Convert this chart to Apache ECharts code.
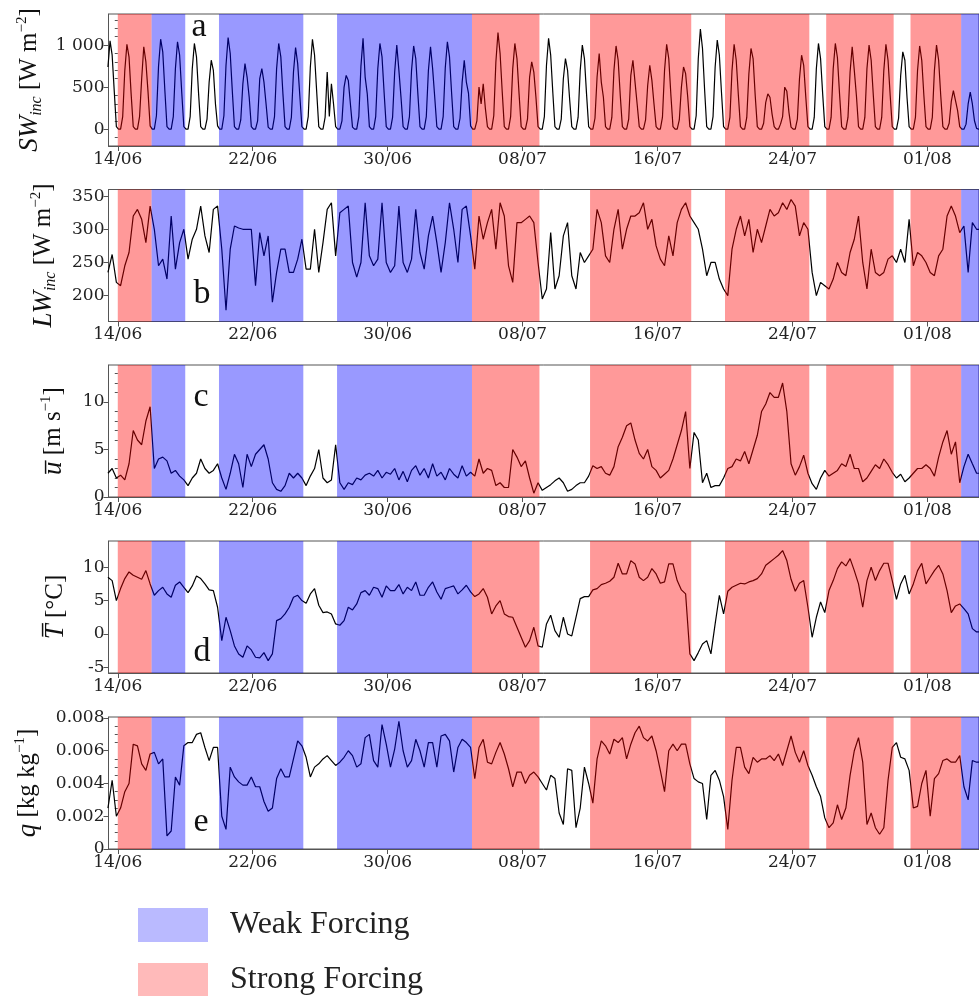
<!DOCTYPE html>
<html><head><meta charset="utf-8">
<script src="https://cdn.jsdelivr.net/npm/echarts@6/dist/echarts.min.js"></script>
<style>html,body{margin:0;padding:0;background:#fff}#c{width:979px;height:996px}</style>
</head><body><div id="c"></div>
<script>
// x values are days since 14/06 00:00; series start 13/06 10:00
const seriesStartDay = -14 / 24;
const swStepDays = 0.125;   // 3-hourly
const metStepDays = 0.25;   // 6-hourly

const dayTicks = [0, 8, 16, 24, 32, 40, 48];
const dayTickLabels = ['14/06', '22/06', '30/06', '08/07', '16/07', '24/07', '01/08'];

// forcing periods [startDay, endDay]
const weakPeriods = [[2, 4], [6, 11], [13, 21], [50, 52]];
const strongPeriods = [[0, 2], [21, 25], [28, 34], [36, 41], [42, 46], [47, 50]];

// incoming short wave, 3-hourly (10,13,16,19,22,01,04,07 h)
const swInc = [
740,1050,880,450,30,0,0,150,
700,1010,860,420,30,0,0,150,
600,980,800,450,40,0,0,160,
750,1070,920,460,30,0,0,150,
720,1040,880,440,30,0,0,150,
720,1020,860,420,30,0,0,120,
560,820,700,300,40,0,0,160,
760,1090,900,450,30,0,0,110,
540,780,620,380,30,0,0,100,
600,720,560,300,25,0,0,150,
720,1020,860,420,30,0,0,140,
680,970,780,400,30,0,0,150,
740,1070,880,450,30,0,0,140,
680,150,540,300,30,0,0,100,
500,640,580,300,25,0,0,150,
750,1080,620,420,30,0,0,150,
720,1020,860,430,30,0,0,140,
680,1000,700,380,30,0,0,150,
700,990,840,420,30,0,0,150,
700,980,720,380,30,0,0,150,
730,1040,860,430,30,0,0,130,
560,820,560,430,40,0,0,100,
500,300,540,250,30,0,0,160,
800,1150,900,450,30,0,0,150,
720,1020,840,420,30,0,0,120,
620,800,680,380,30,0,0,150,
760,1080,880,440,30,0,0,120,
600,840,700,350,30,0,0,140,
700,1000,840,420,30,0,0,130,
620,900,560,380,30,0,0,140,
700,990,820,400,30,0,0,120,
640,820,560,300,30,0,0,110,
520,760,580,300,30,0,0,140,
700,1010,840,410,30,0,0,110,
500,740,660,380,30,0,0,160,
840,1190,960,470,30,0,0,150,
740,1060,880,440,30,0,0,140,
700,1010,820,410,30,0,0,140,
660,960,840,400,30,0,0,70,
320,420,380,180,30,0,0,60,
150,500,450,200,25,0,0,120,
600,880,760,380,30,0,0,140,
720,1020,840,420,30,0,0,140,
720,1020,850,420,30,0,0,140,
680,980,700,400,30,0,0,140,
720,1000,820,410,30,0,0,140,
700,1010,820,410,30,0,0,130,
640,920,820,380,30,0,0,140,
700,990,820,400,30,0,0,140,
700,1000,820,400,30,0,0,70,
330,460,340,220,30,0,0,60,
300,440,300,100,10,0,0,20
];

// incoming long wave, 6-hourly
const lwInc = [
235,262,220,
215,245,265,320, 330,315,280,335, 300,245,255,225, 320,240,280,300,
255,285,300,335, 290,265,330,335, 270,178,270,305, 302,300,300,300,
215,295,260,290, 190,235,270,270, 235,235,255,285, 240,240,300,235,
280,330,340,260, 325,330,335,250, 228,250,340,260, 245,255,340,250,
235,245,335,250, 235,255,330,265, 240,290,320,280, 235,280,340,300,
250,330,335,290, 240,320,285,310, 330,270,340,320, 245,220,310,310,
315,320,310,250, 195,210,295,210, 230,290,310,230, 210,265,250,260,
270,330,310,260, 250,300,330,270, 300,320,320,325, 340,300,315,275,
255,245,290,260, 310,330,340,320, 310,300,270,230, 250,250,225,210,
200,270,300,320, 290,315,265,300, 280,305,330,320, 325,340,330,345,
335,290,310,300, 235,200,220,215, 210,225,250,235, 230,265,285,320,
250,210,270,235, 230,235,255,260, 250,270,250,315, 245,265,260,250,
235,230,260,270, 320,335,320,295, 305,235,310,300,
300
];

// mean wind speed, 6-hourly
const windSpeed = [
2.5,3.0,2.0,
2.3,1.8,3.5,7.0, 6.0,5.5,8.0,9.5, 3.0,4.0,4.2,3.8, 2.5,2.8,2.2,1.8,
1.2,2.0,2.5,4.0, 3.0,2.5,2.8,3.5, 2.0,0.8,2.5,4.5, 3.5,1.0,4.5,3.2,
4.5,5.0,5.5,4.0, 1.5,0.8,0.6,1.2, 2.5,2.0,2.5,2.0, 1.2,2.2,3.0,5.0,
2.0,1.5,1.8,5.5, 1.5,0.8,1.5,1.3, 2.0,1.8,2.3,2.5, 2.2,2.8,2.0,2.6,
2.4,3.0,1.8,2.7, 1.6,2.8,3.3,2.3, 3.0,2.0,3.5,2.2, 2.6,1.8,3.0,2.4,
2.0,3.3,2.2,2.6, 2.2,4.0,2.5,3.0, 2.8,1.2,1.5,1.0, 1.0,5.0,4.2,3.2,
3.8,2.0,0.4,1.5, 0.7,1.0,1.3,1.7, 2.0,1.5,0.6,0.8, 1.2,1.5,1.5,2.2,
3.3,3.0,3.2,2.5, 2.3,3.2,5.3,6.3, 7.5,7.8,6.0,4.6, 4.0,5.0,3.2,2.8,
2.0,2.4,2.8,4.0, 5.5,7.0,9.0,3.0, 6.8,6.0,1.5,2.5, 1.0,1.2,1.2,2.0,
3.0,3.2,4.0,3.8, 4.8,3.5,5.0,6.5, 9.0,9.8,11.0,10.5, 10.5,12.0,9.0,3.5,
2.3,3.2,4.4,2.5, 1.4,0.8,2.0,2.8, 2.2,2.5,2.8,3.5, 3.2,4.5,3.0,3.0,
1.6,2.0,2.7,3.4, 3.0,4.0,3.4,2.6, 2.0,2.4,1.6,2.0, 2.5,3.0,3.0,3.4,
3.0,2.2,4.2,5.8, 7.0,4.5,5.8,1.5, 3.2,4.5,3.5,2.5,
2.5
];

// mean temperature, 6-hourly
const temperature = [
8.5,8.0,5.0,
6.8,8.3,9.3,8.8, 8.5,8.2,9.5,7.5, 5.8,6.5,7.0,6.0, 5.5,7.3,7.8,7.0,
6.2,7.2,8.7,8.3, 7.5,6.6,6.5,4.0, -1.0,2.5,0.5,-1.8, -3.0,-3.5,-1.8,-2.4,
-3.5,-3.6,-2.8,-4.0, -3.0,2.0,2.3,3.0, 4.0,5.5,5.8,5.0, 4.6,6.0,6.8,4.3,
3.2,3.3,3.0,1.5, 1.3,2.0,4.0,3.6, 4.5,6.2,6.5,5.8, 7.0,6.8,5.5,7.2,
6.5,6.5,7.4,6.0, 7.0,6.5,7.8,5.8, 5.8,7.0,7.8,6.3, 5.2,6.8,7.0,7.2,
6.0,6.6,7.3,6.3, 5.6,6.0,6.8,5.5, 3.0,4.2,5.0,3.0, 2.6,2.5,1.0,-0.5,
-2.0,-1.0,1.0,-1.8, -2.0,1.5,2.8,0.5, -0.5,2.5,0.0,-0.3, 2.5,5.3,5.6,5.6,
6.6,6.8,7.4,7.6, 7.9,8.5,10.6,9.0, 9.0,11.0,10.5,8.5, 8.0,8.5,9.8,9.0,
7.6,7.8,10.5,10.5, 8.0,6.6,6.0,-3.0, -4.0,-2.8,-1.5,-1.0, -3.0,1.5,5.8,3.0,
6.4,7.0,7.3,7.6, 7.5,7.8,8.0,8.3, 9.0,10.3,10.8,11.3, 11.8,12.5,11.0,8.2,
6.4,7.6,8.0,4.0, -0.5,2.5,4.8,3.2, 6.5,8.0,9.8,10.8, 10.2,11.3,9.5,7.5,
4.0,8.0,10.0,8.0, 9.5,10.6,10.6,8.0, 5.2,7.5,8.8,6.0, 7.5,9.5,10.6,7.5,
8.5,9.5,10.3,9.0, 6.5,3.2,4.2,4.5, 3.8,3.0,0.8,0.3,
0.3
];

// specific humidity, 6-hourly
const humidity = [
0.0025,0.0042,0.0020,
0.0025,0.0035,0.0040,0.0064, 0.0063,0.0052,0.0048,0.0058, 0.0059,0.0052,0.0055,0.0008, 0.0011,0.0044,0.0039,0.0063,
0.0065,0.0065,0.0070,0.0071, 0.0062,0.0054,0.0062,0.0062, 0.0020,0.0012,0.0050,0.0044, 0.0041,0.0039,0.0039,0.0044,
0.0038,0.0038,0.0029,0.0023, 0.0025,0.0043,0.0049,0.0044, 0.0044,0.0055,0.0066,0.0063, 0.0056,0.0044,0.0050,0.0052,
0.0055,0.0057,0.0054,0.0051, 0.0053,0.0056,0.0060,0.0057, 0.0050,0.0052,0.0068,0.0070, 0.0054,0.0050,0.0076,0.0064,
0.0050,0.0061,0.0078,0.0060, 0.0050,0.0054,0.0067,0.0060, 0.0050,0.0065,0.0065,0.0050, 0.0069,0.0070,0.0066,0.0047,
0.0062,0.0067,0.0065,0.0062, 0.0043,0.0062,0.0067,0.0053, 0.0052,0.0059,0.0065,0.0058, 0.0049,0.0038,0.0047,0.0047,
0.0040,0.0045,0.0047,0.0044, 0.0040,0.0036,0.0045,0.0043, 0.0022,0.0015,0.0049,0.0048, 0.0013,0.0025,0.0050,0.0040,
0.0028,0.0055,0.0066,0.0063, 0.0058,0.0067,0.0065,0.0068, 0.0055,0.0064,0.0071,0.0075, 0.0068,0.0066,0.0069,0.0060,
0.0048,0.0035,0.0060,0.0064, 0.0060,0.0064,0.0064,0.0052, 0.0043,0.0041,0.0040,0.0018, 0.0045,0.0048,0.0042,0.0032,
0.0012,0.0042,0.0062,0.0062, 0.0050,0.0046,0.0056,0.0053, 0.0055,0.0055,0.0057,0.0054, 0.0058,0.0051,0.0060,0.0069,
0.0059,0.0053,0.0060,0.0051, 0.0045,0.0038,0.0032,0.0019, 0.0013,0.0016,0.0027,0.0018, 0.0025,0.0045,0.0060,0.0068,
0.0053,0.0015,0.0022,0.0013, 0.0009,0.0013,0.0042,0.0062, 0.0065,0.0056,0.0055,0.0048, 0.0025,0.0026,0.0040,0.0048,
0.0020,0.0043,0.0046,0.0054, 0.0055,0.0053,0.0053,0.0057, 0.0038,0.0030,0.0054,0.0053,
0.0053
];

// axis ticks
const swTicks = [0, 500, 1000], swTickLabels = ['0', '500', '1 000'];
const lwTicks = [200, 250, 300, 350], lwTickLabels = ['200', '250', '300', '350'];
const uTicks = [0, 5, 10], uTickLabels = ['0', '5', '10'];
const tTicks = [-5, 0, 5, 10], tTickLabels = ['-5', '0', '5', '10'];
const qTicks = [0, 0.002, 0.004, 0.006, 0.008], qTickLabels = ['0', '0.002', '0.004', '0.006', '0.008'];

const forcingNames = ['Weak Forcing', 'Strong Forcing'];
const panelLetters = ['a', 'b', 'c', 'd', 'e'];

// ---------------------------------------------------------------
const X_MIN = -0.55, X_MAX = 51.06;
const SERIF = 'Liberation Serif';
const TICKFONT = 'DejaVu Serif';
const FRAME = '#555';
const BLUE = 'rgba(0,0,255,0.4)', RED = 'rgba(255,0,0,0.4)';
const LEG_BLUE = 'rgba(0,0,255,0.27)', LEG_RED = 'rgba(255,0,0,0.27)';

function minorRange(a, b, s) { const out = []; for (let v = a; v <= b + 1e-12; v += s) out.push(+v.toFixed(6)); return out; }

const panels = [
  { data: swInc, step: swStepDays, min: -200, max: 1370, ticks: swTicks, labels: swTickLabels,
    minor: minorRange(-100, 1300, 100).filter(v => v % 500 !== 0),
    name: '{i|SW}{s|inc}{n| [W m}{p|−2}{n|]}', gap: 64 },
  { data: lwInc, step: metStepDays, min: 161, max: 360, ticks: lwTicks, labels: lwTickLabels,
    minor: null, name: '{i|LW}{s|inc}{n| [W m}{p|−2}{n|]}', gap: 50 },
  { data: windSpeed, step: metStepDays, min: 0, max: 13.9, ticks: uTicks, labels: uTickLabels,
    minor: [1,2,3,4,6,7,8,9,11,12,13], name: '{i|u\u0305}{n| [m s}{p|−1}{n|]}', gap: 40 },
  { data: temperature, step: metStepDays, min: -5.86, max: 13.94, ticks: tTicks, labels: tTickLabels,
    minor: null, name: '{i|T\u0305}{n| [°C]}', gap: 38 },
  { data: humidity, step: metStepDays, min: 0, max: 0.00806, ticks: qTicks, labels: qTickLabels,
    minor: minorRange(0.0005, 0.0075, 0.0005).filter(v => Math.round(v * 1e4) % 20 !== 0),
    name: '{i|q}{n| [kg kg}{p|−1}{n|]}', gap: 66 }
];
const tops = [14, 189.5, 365, 541, 717];
const H = 132;

const nameRich = {
  i: { fontFamily: SERIF, fontStyle: 'italic', fontSize: 27, color: '#111', verticalAlign: 'middle', lineHeight: 30 },
  s: { fontFamily: SERIF, fontStyle: 'italic', fontSize: 16, color: '#111', verticalAlign: 'bottom', lineHeight: 30 },
  n: { fontFamily: SERIF, fontSize: 25, color: '#111', verticalAlign: 'middle', lineHeight: 30 },
  p: { fontFamily: SERIF, fontSize: 15, color: '#111', verticalAlign: 'top', lineHeight: 30 }
};

const grid = [], xAxis = [], yAxis = [], series = [];
panels.forEach((p, i) => {
  grid.push({ left: 108.5, right: -3, top: tops[i], height: H, show: true, borderColor: FRAME, borderWidth: 1, backgroundColor: 'transparent' });
  xAxis.push({
    type: 'value', gridIndex: i, min: X_MIN, max: X_MAX, splitLine: { show: false },
    axisLine: { show: true, onZero: false, lineStyle: { color: FRAME, width: 1 } },
    axisTick: { show: true, customValues: dayTicks, length: 5, lineStyle: { color: FRAME } },
    axisLabel: { show: true, customValues: dayTicks, margin: 5, fontFamily: TICKFONT, fontSize: 17, color: '#222',
      formatter: v => dayTickLabels[dayTicks.indexOf(Math.round(v))] || '' }
  });
  const yi = yAxis.length;
  yAxis.push({
    type: 'value', gridIndex: i, min: p.min, max: p.max, position: 'left', splitLine: { show: false },
    axisLine: { show: true, onZero: false, lineStyle: { color: FRAME, width: 1 } },
    axisTick: { show: true, customValues: p.ticks, length: 5, lineStyle: { color: FRAME } },
    axisLabel: { show: true, customValues: p.ticks, margin: 4, fontFamily: TICKFONT, fontSize: 17, color: '#222',
      formatter: v => { let k = p.ticks.findIndex(t => Math.abs(t - v) < 1e-9); return k >= 0 ? p.labels[k] : ''; } },
    name: p.name, nameLocation: 'middle', nameRotate: 90, nameGap: p.gap,
    nameTextStyle: { rich: nameRich }
  });
  if (p.minor) {
    yAxis.push({
      type: 'value', gridIndex: i, min: p.min, max: p.max, position: 'left', offset: 0, splitLine: { show: false },
      axisLine: { show: false }, axisLabel: { show: false },
      axisTick: { show: true, customValues: p.minor, length: 3, lineStyle: { color: FRAME } }
    });
  }
  series.push({
    type: 'line', xAxisIndex: i, yAxisIndex: yi, symbol: 'none', showSymbol: false, silent: true,
    lineStyle: { color: '#000', width: 1.2 }, z: 2, clip: true,
    data: p.data.map((v, k) => [seriesStartDay + k * p.step, v])
  });
  const areas = [];
  weakPeriods.forEach(([s, e]) => areas.push([{ xAxis: Math.max(s, X_MIN), itemStyle: { color: BLUE } }, { xAxis: Math.min(e, X_MAX) }]));
  strongPeriods.forEach(([s, e]) => areas.push([{ xAxis: Math.max(s, X_MIN), itemStyle: { color: RED } }, { xAxis: Math.min(e, X_MAX) }]));
  series.push({
    type: 'line', xAxisIndex: i, yAxisIndex: yi, data: [], z: 10, silent: true,
    markArea: { silent: true, z: 10, data: areas, label: { show: false } }
  });
});

// legend-only series
series.push({ type: 'bar', name: forcingNames[0], xAxisIndex: 0, yAxisIndex: 0, data: [], itemStyle: { color: LEG_BLUE } });
series.push({ type: 'bar', name: forcingNames[1], xAxisIndex: 0, yAxisIndex: 0, data: [], itemStyle: { color: LEG_RED } });

const letterPos = [[199, 27], [202, 294], [201, 397], [202, 652], [201, 822]];
const graphic = panelLetters.map((t, i) => ({
  type: 'text', x: letterPos[i][0], y: letterPos[i][1], z: 100,
  style: { text: t, fontFamily: SERIF, fontSize: 34, fill: '#111', align: 'center', verticalAlign: 'middle' }
}));

const legendBase = {
  orient: 'vertical', left: 138, padding: 0, itemWidth: 70, itemHeight: 34, icon: 'rect', selectedMode: false,
  textStyle: { fontFamily: SERIF, fontSize: 32, color: '#222', padding: [0, 0, 0, 17] }
};
const option = {
  animation: false,
  backgroundColor: '#fff',
  grid, xAxis, yAxis, series, graphic,
  legend: [
    Object.assign({}, legendBase, { data: [forcingNames[0]], top: 908 }),
    Object.assign({}, legendBase, { data: [forcingNames[1]], top: 963 })
  ]
};
const chart = echarts.init(document.getElementById('c'), null, { renderer: 'canvas' });
chart.setOption(option);
</script></body></html>
